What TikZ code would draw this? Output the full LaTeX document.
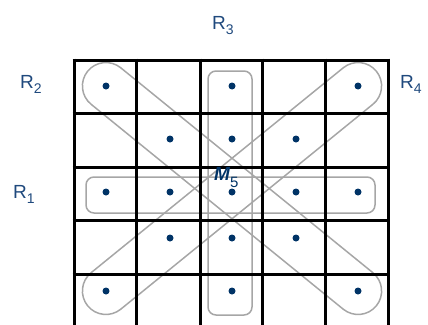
\documentclass[tikz,border=0pt]{standalone}
\usepackage{fontspec}
\setmainfont{Liberation Sans}
\usetikzlibrary{shapes.misc}
\definecolor{navy}{HTML}{003366}
\definecolor{lblue}{HTML}{1F497D}
\definecolor{capgray}{HTML}{A6A6A6}
\tikzset{
  gridline/.style={line width=3pt, black},
  dotmark/.style={circle, fill=navy, inner sep=0pt, minimum size=7pt},
  capsule/.style={rounded rectangle, draw=capgray, line width=1.5pt, inner sep=0pt, minimum height=47pt},
  rbox/.style={draw=capgray, line width=1.5pt, rounded corners=8pt},
  rlabel/.style={anchor=base west, inner sep=0pt, text=lblue, font=\fontsize{19}{21}\selectfont}
}
\newcommand{\rsub}[1]{\raisebox{-0.3em}{\fontsize{14}{15}\selectfont #1}}
\begin{document}
\begin{tikzpicture}[x=1pt,y=-1pt]
\useasboundingbox (0,0) rectangle (428,324);
% capsules and boxes (under the grid)
\node[capsule, minimum width=372pt, rotate=-39.1] (diagA) at (232,188.5) {};
\node[capsule, minimum width=372pt, rotate=39.1] (diagB) at (232,188.5) {};
\draw[rbox] (208,71) rectangle (252,315);
\draw[rbox] (86,177) rectangle (375,213);
% grid
\foreach \x in {74,136,200,262,325,388} \draw[gridline] (\x,58.5) -- (\x,330);
\foreach \y in {60,113,167,220,274} \draw[gridline] (72.5,\y) -- (389.5,\y);
% dots
\node[dotmark] (d11) at (106,86) {};
\node[dotmark] (d13) at (232,86) {};
\node[dotmark] (d15) at (358,86) {};
\node[dotmark] (d22) at (170,139) {};
\node[dotmark] (d23) at (232,139) {};
\node[dotmark] (d24) at (296,139) {};
\node[dotmark] (d31) at (106,192) {};
\node[dotmark] (d32) at (170,192) {};
\node[dotmark] (d33) at (232,192) {};
\node[dotmark] (d34) at (296,192) {};
\node[dotmark] (d35) at (358,192) {};
\node[dotmark] (d42) at (170,238) {};
\node[dotmark] (d43) at (232,238) {};
\node[dotmark] (d44) at (296,238) {};
\node[dotmark] (d51) at (106,291) {};
\node[dotmark] (d53) at (232,291) {};
\node[dotmark] (d55) at (358,291) {};
% labels
\node[rlabel] (r3) at (212,29) {R\rsub{3}};
\node[rlabel] (r2) at (20,88) {R\rsub{2}};
\node[rlabel] (r4) at (400,88) {R\rsub{4}};
\node[rlabel] (r1) at (13,198) {R\rsub{1}};
\node[anchor=base west, inner sep=0pt, text=navy, font=\fontsize{19}{21}\selectfont\bfseries\itshape] (m5) at (214,180) {M\raisebox{-0.4em}{\fontsize{15}{15}\selectfont\mdseries\upshape 5}};
\end{tikzpicture}
\end{document}
